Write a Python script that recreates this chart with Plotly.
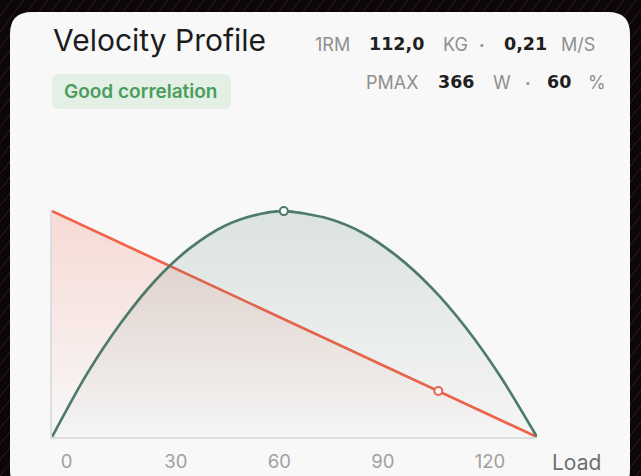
import plotly.graph_objects as go

# ---------------- data ----------------
velocity_load = [0, 140.6]          # kg
velocity_values = [1.03, 0.0]       # m/s
one_rm_load = [112.0]
one_rm_velocity = [0.21]

power_load = [0, 10, 20, 30, 40, 50, 60, 67.2, 80, 90, 100, 110, 120, 130, 140.6]
power_values = [0, 101, 185, 254, 306, 342, 361, 366, 354, 331, 293, 242, 177, 98, 0]
pmax_load = [67.2]
pmax_value = [366]

x_ticks = [0, 30, 60, 90, 120]
x_ticklabels = ["0", "30", "60", "90", "120"]

title_text = "Velocity Profile"
badge_text = "Good correlation"
axis_title = "Load"
row1_parts = [("1RM", False), ("112,0", True), ("KG", False), ("•", False), ("0,21", True), ("M/S", False)]
row2_parts = [("PMAX", False), ("366", True), ("W", False), ("•", False), ("60", True), ("%", False)]

# ---------------- layout helpers ----------------
W, H = 641, 476
ML, MR, MT, MB = 52, W - 537, 210, H - 437
PW, PH = W - ML - MR, H - MT - MB


def px(x):
    return (x - ML) / PW


def py(y):
    return (H - MB - y) / PH


RED = "rgb(242,98,72)"
GREEN = "rgb(78,122,108)"
FONT = "Inter"

fig = go.Figure()

fig.add_trace(go.Scatter(
    x=power_load, y=power_values, yaxis="y2", mode="lines",
    line=dict(color=GREEN, width=2.7, shape="spline", smoothing=0.8),
    fill="tozeroy",
    fillgradient=dict(type="vertical", colorscale=[[0, "rgba(78,122,108,0.02)"], [1, "rgba(78,122,108,0.17)"]]),
    hoverinfo="skip", showlegend=False,
))
fig.add_trace(go.Scatter(
    x=velocity_load, y=velocity_values, mode="lines",
    line=dict(color=RED, width=2.7),
    fill="tozeroy",
    fillgradient=dict(type="vertical", colorscale=[[0, "rgba(242,98,72,0.0)"], [1, "rgba(242,98,72,0.2)"]]),
    hoverinfo="skip", showlegend=False,
))
fig.add_trace(go.Scatter(
    x=pmax_load, y=pmax_value, yaxis="y2", mode="markers",
    marker=dict(size=8, color="white", line=dict(color=GREEN, width=2)),
    cliponaxis=False, showlegend=False,
))
fig.add_trace(go.Scatter(
    x=one_rm_load, y=one_rm_velocity, mode="markers",
    marker=dict(size=8, color="white", line=dict(color=RED, width=2)),
    cliponaxis=False, showlegend=False,
))


def rounded(xa, xb, ya, yb, r):
    return " ".join([
        f"M {px(xa + r)},{py(ya)}",
        f"L {px(xb - r)},{py(ya)}",
        f"Q {px(xb)},{py(ya)} {px(xb)},{py(ya + r)}",
        f"L {px(xb)},{py(yb - r)}",
        f"Q {px(xb)},{py(yb)} {px(xb - r)},{py(yb)}",
        f"L {px(xa + r)},{py(yb)}",
        f"Q {px(xa)},{py(yb)} {px(xa)},{py(yb - r)}",
        f"L {px(xa)},{py(ya + r)}",
        f"Q {px(xa)},{py(ya)} {px(xa + r)},{py(ya)} Z",
    ])


shapes = []
# subtle diagonal texture in the dark background
for k in range(-30, 70):
    sx = k * 12
    shapes.append(dict(type="line", xref="paper", yref="paper",
                       x0=px(sx), y0=py(H), x1=px(sx + 360), y1=py(0),
                       line=dict(color="rgba(140,70,85,0.35)", width=1), layer="below"))
shapes.append(dict(type="path", xref="paper", yref="paper", path=rounded(10, 630, 12, 492, 22),
                   fillcolor="#f8f8f8", line=dict(width=0), layer="below"))
shapes.append(dict(type="path", xref="paper", yref="paper", path=rounded(52, 231, 74, 109, 7),
                   fillcolor="#e4efe6", line=dict(width=0), layer="below"))

annotations = [
    dict(text=title_text, xref="paper", yref="paper", x=px(51), y=py(40),
         xanchor="left", yanchor="middle", showarrow=False,
         font=dict(family=FONT, size=30, color="#1c1c1c")),
    dict(text=badge_text, xref="paper", yref="paper", x=px(62), y=py(91.5),
         xanchor="left", yanchor="middle", showarrow=False,
         font=dict(family=FONT, size=19, color="#4a9e5c", weight=600)),
    dict(text=axis_title, xref="paper", yref="paper", x=px(550), y=py(462),
         xanchor="left", yanchor="middle", showarrow=False,
         font=dict(family=FONT, size=21, color="#707070")),
]

row1_x = [313, 367, 441, 482, 502, 559]
row2_x = [364, 436, 491, 528, 545, 586]
for parts, xs, yc in ((row1_parts, row1_x, 44), (row2_parts, row2_x, 82)):
    for (t, bold), xl in zip(parts, xs):
        dot = t == "•"
        if bold:
            f = dict(family="DejaVu Sans", size=17.5, color="#1f1f1f", weight=700)
        elif dot:
            f = dict(family=FONT, size=10, color="#9a9a9a")
        else:
            f = dict(family=FONT, size=18, color="#8f8f8f")
        annotations.append(dict(
            text=t, xref="paper", yref="paper", x=px(xl), y=py(yc),
            xanchor="center" if dot else "left", yanchor="middle", showarrow=False, font=f))

fig.update_layout(
    width=W, height=H,
    margin=dict(l=ML, r=MR, t=MT, b=MB, pad=0),
    paper_bgcolor="#0b0607",
    plot_bgcolor="rgba(0,0,0,0)",
    shapes=shapes,
    annotations=annotations,
    xaxis=dict(range=[0, 140.6], tickvals=x_ticks, ticktext=x_ticklabels, automargin=False,
               showgrid=False, zeroline=False, showline=True, linecolor="#dedede", linewidth=1.5,
               ticks="", ticklabelposition="outside right", ticklabelshift=8, ticklabelstandoff=7,
               tickfont=dict(family=FONT, size=18.5, color="#a0a0a0"), fixedrange=True),
    yaxis=dict(range=[0, 1.035], showgrid=False, zeroline=False, showline=True, automargin=False,
               linecolor="#dedede", linewidth=1.5, showticklabels=False, ticks=""),
    yaxis2=dict(range=[0, 367.8], overlaying="y", visible=False),
)

fig.write_html("out.html", config={"displayModeBar": False},
               post_script="document.body.style.margin='0';document.body.style.background='#0b0607';")
